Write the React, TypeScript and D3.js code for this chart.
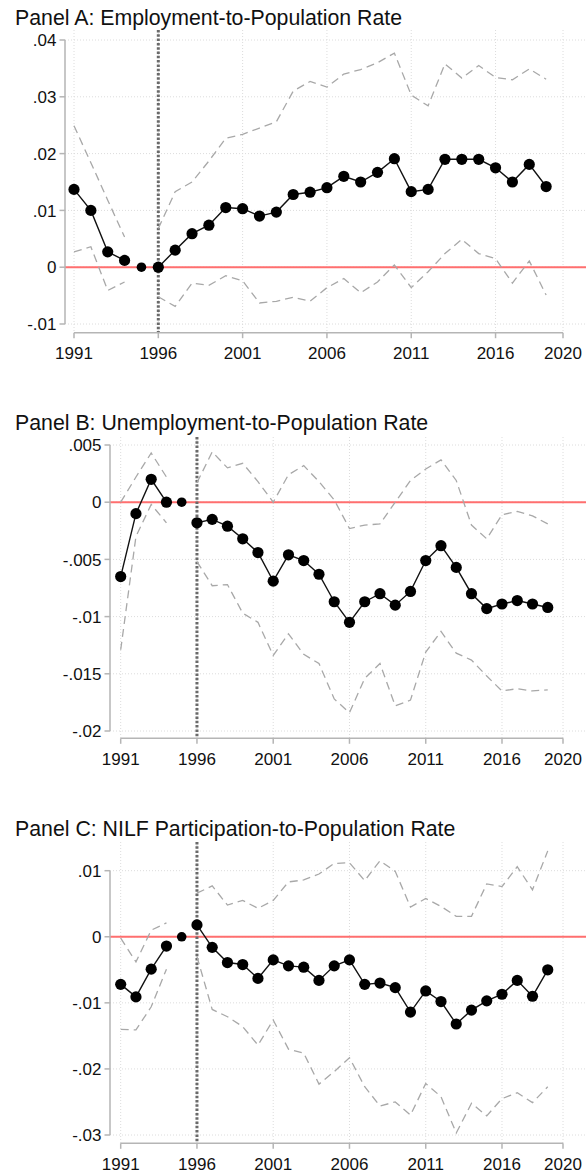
import React from "react";
import * as d3 from "d3";

const years = [1991, 1992, 1993, 1994, 1995, 1996, 1997, 1998, 1999, 2000, 2001, 2002, 2003, 2004, 2005, 2006, 2007, 2008, 2009, 2010, 2011, 2012, 2013, 2014, 2015, 2016, 2017, 2018, 2019];
const xTicks = [1991, 1996, 2001, 2006, 2011, 2016, 2020];
const eventYear = 1996;
const refYear = 1995;

const titles = [
  "Panel A: Employment-to-Population Rate",
  "Panel B: Unemployment-to-Population Rate",
  "Panel C: NILF Participation-to-Population Rate",
];

// Panel A
const empCoef = [0.0137, 0.0100, 0.0027, 0.0012, 0, 0, 0.0030, 0.0059, 0.0074, 0.0105, 0.0103, 0.0090, 0.0097, 0.0128, 0.0132, 0.0140, 0.0160, 0.0150, 0.0167, 0.0191, 0.0133, 0.0137, 0.0190, 0.0190, 0.0190, 0.0175, 0.0150, 0.0181, 0.0142];
const empUpper = [0.0249, 0.0184, 0.0118, 0.0053, null, 0.0068, 0.0133, 0.0150, 0.0187, 0.0227, 0.0234, 0.0245, 0.0256, 0.0310, 0.0327, 0.0317, 0.0340, 0.0348, 0.0360, 0.0377, 0.0303, 0.0284, 0.0358, 0.0333, 0.0355, 0.0334, 0.0330, 0.0349, 0.0331];
const empLower = [0.0027, 0.0036, -0.0041, -0.0026, null, -0.0052, -0.0069, -0.0028, -0.0032, -0.0015, -0.0024, -0.0063, -0.0060, -0.0053, -0.0060, -0.0036, -0.0020, -0.0045, -0.0026, 0.0004, -0.0036, -0.0008, 0.0024, 0.0049, 0.0024, 0.0015, -0.0028, 0.0011, -0.0049];
const empTicks = [-0.01, 0, 0.01, 0.02, 0.03, 0.04];
const empTickLabels = ["-.01", "0", ".01", ".02", ".03", ".04"];

// Panel B
const unempCoef = [-0.0065, -0.0010, 0.0020, 0, 0, -0.0018, -0.0015, -0.0021, -0.0032, -0.0044, -0.0069, -0.0046, -0.0051, -0.0063, -0.0087, -0.0105, -0.0087, -0.0080, -0.0090, -0.0078, -0.0051, -0.0038, -0.0057, -0.0080, -0.0093, -0.0089, -0.0086, -0.0089, -0.0092];
const unempUpper = [0.0000, 0.0022, 0.0043, 0.0022, null, 0.0017, 0.0044, 0.0030, 0.0034, 0.0018, 0.0000, 0.0024, 0.0032, 0.0018, 0.0002, -0.0023, -0.0020, -0.0019, 0.0000, 0.0019, 0.0029, 0.0037, 0.0019, -0.0020, -0.0032, -0.0011, -0.0008, -0.0012, -0.0019];
const unempLower = [-0.0129, -0.0030, -0.0002, -0.0018, null, -0.0052, -0.0073, -0.0072, -0.0097, -0.0105, -0.0134, -0.0115, -0.0133, -0.0141, -0.0172, -0.0184, -0.0154, -0.0141, -0.0178, -0.0173, -0.0131, -0.0113, -0.0132, -0.0138, -0.0152, -0.0165, -0.0163, -0.0165, -0.0164];
const unempTicks = [-0.02, -0.015, -0.01, -0.005, 0, 0.005];
const unempTickLabels = ["-.02", "-.015", "-.01", "-.005", "0", ".005"];

// Panel C
const nilfCoef = [-0.0072, -0.0091, -0.0049, -0.0014, 0, 0.0018, -0.0016, -0.0039, -0.0042, -0.0063, -0.0035, -0.0044, -0.0046, -0.0066, -0.0044, -0.0035, -0.0072, -0.0070, -0.0077, -0.0114, -0.0082, -0.0098, -0.0132, -0.0111, -0.0097, -0.0087, -0.0066, -0.0090, -0.0050];
const nilfUpper = [-0.0002, -0.0038, 0.0010, 0.0021, null, 0.0066, 0.0077, 0.0048, 0.0055, 0.0043, 0.0055, 0.0083, 0.0086, 0.0095, 0.0111, 0.0112, 0.0085, 0.0115, 0.0099, 0.0045, 0.0058, 0.0046, 0.0031, 0.0031, 0.0080, 0.0076, 0.0106, 0.0071, 0.0130];
const nilfLower = [-0.0140, -0.0141, -0.0106, -0.0049, null, -0.0030, -0.0110, -0.0121, -0.0136, -0.0164, -0.0126, -0.0170, -0.0176, -0.0223, -0.0204, -0.0183, -0.0227, -0.0256, -0.0250, -0.0270, -0.0222, -0.0242, -0.0297, -0.0252, -0.0271, -0.0245, -0.0236, -0.0251, -0.0227];
const nilfTicks = [-0.03, -0.02, -0.01, 0, 0.01];
const nilfTickLabels = ["-.03", "-.02", "-.01", "0", ".01"];

const FONT = "'Liberation Sans', Arial, Helvetica, sans-serif";

type PanelLayout = {
  titleY: number;
  yPix: [number, number];
  axisX: number;
  xPix: [number, number];
  plotTop: number;
  xAxisY: number;
  labelY: number;
};

const layouts: PanelLayout[] = [
  { titleY: 25, yPix: [324, 40], axisX: 65, xPix: [74, 563], plotTop: 30, xAxisY: 332.7, labelY: 358.5 },
  { titleY: 430, yPix: [731, 445], axisX: 110, xPix: [120.7, 563], plotTop: 437, xAxisY: 738.3, labelY: 764.5 },
  { titleY: 836, yPix: [1135, 870.7], axisX: 110, xPix: [120.7, 563], plotTop: 842, xAxisY: 1143.3, labelY: 1170 },
];

type PanelProps = {
  title: string;
  coef: number[];
  upper: (number | null)[];
  lower: (number | null)[];
  ticks: number[];
  tickLabels: string[];
  layout: PanelLayout;
};

function Panel({ title, coef, upper, lower, ticks, tickLabels, layout }: PanelProps) {
  const x = d3.scaleLinear().domain([1991, 2020]).range(layout.xPix);
  const y = d3.scaleLinear().domain([ticks[0], ticks[ticks.length - 1]]).range(layout.yPix);
  const right = 586;

  const pts = years.map((yr, i) => ({ yr, v: coef[i] }));
  const dataLine = d3
    .line<{ yr: number; v: number }>()
    .defined((d) => d.yr !== refYear)
    .x((d) => x(d.yr))
    .y((d) => y(d.v));

  const ciLine = d3
    .line<{ yr: number; v: number | null }>()
    .defined((d) => d.v !== null)
    .x((d) => x(d.yr))
    .y((d) => y(d.v as number));

  const upPts = years.map((yr, i) => ({ yr, v: upper[i] }));
  const loPts = years.map((yr, i) => ({ yr, v: lower[i] }));

  return (
    <g>
      <text x={15} y={layout.titleY} fontFamily={FONT} fontSize={21.3} fill="#111">
        {title}
      </text>
      {ticks.map((t) => (
        <line key={"gy" + t} x1={layout.axisX} x2={right} y1={y(t)} y2={y(t)} stroke="#dcdcdc" strokeWidth={1} strokeDasharray="1,2" />
      ))}
      {xTicks.map((t) => (
        <line key={"gx" + t} x1={x(t)} x2={x(t)} y1={layout.plotTop} y2={layout.xAxisY} stroke="#dcdcdc" strokeWidth={1} strokeDasharray="1,2" />
      ))}
      <line x1={layout.axisX} x2={right} y1={y(0)} y2={y(0)} stroke="#ff6f6f" strokeWidth={2} />
      <line x1={x(eventYear)} x2={x(eventYear)} y1={layout.plotTop} y2={layout.xAxisY} stroke="#6a6a6a" strokeWidth={3} strokeDasharray="2.5,1.8" />
      <path d={ciLine(upPts) || ""} fill="none" stroke="#a8a8a8" strokeWidth={1.3} strokeDasharray="8,5" />
      <path d={ciLine(loPts) || ""} fill="none" stroke="#a8a8a8" strokeWidth={1.3} strokeDasharray="8,5" />
      <path d={dataLine(pts) || ""} fill="none" stroke="#111" strokeWidth={1.4} />
      {pts.map((p) => (
        <circle key={"p" + p.yr} cx={x(p.yr)} cy={y(p.v)} r={p.yr === refYear ? 4.8 : 5.6} fill="#000" />
      ))}
      <line x1={layout.axisX} x2={layout.axisX} y1={y(ticks[0])} y2={y(ticks[ticks.length - 1])} stroke="#b5b5b5" strokeWidth={1.5} />
      {ticks.map((t, i) => (
        <g key={"yt" + t}>
          <line x1={layout.axisX - 5.5} x2={layout.axisX} y1={y(t)} y2={y(t)} stroke="#b5b5b5" strokeWidth={1.5} />
          <text x={layout.axisX - 8.5} y={y(t)} dy="0.36em" textAnchor="end" fontFamily={FONT} fontSize={17} fill="#111">
            {tickLabels[i]}
          </text>
        </g>
      ))}
      <line x1={x(1991)} x2={x(2020)} y1={layout.xAxisY} y2={layout.xAxisY} stroke="#b5b5b5" strokeWidth={1.5} />
      {xTicks.map((t) => (
        <g key={"xt" + t}>
          <line x1={x(t)} x2={x(t)} y1={layout.xAxisY} y2={layout.xAxisY + 5.5} stroke="#b5b5b5" strokeWidth={1.5} />
          <text x={x(t)} y={layout.labelY} textAnchor="middle" fontFamily={FONT} fontSize={17} fill="#111">
            {t}
          </text>
        </g>
      ))}
    </g>
  );
}

export default function App() {
  return (
    <svg
      width={586}
      height={1173}
      style={{ position: "absolute", left: 0, top: 0, background: "#fff", display: "block" }}
    >
      <rect x={0} y={0} width={586} height={1173} fill="#fff" />
      <Panel title={titles[0]} coef={empCoef} upper={empUpper} lower={empLower} ticks={empTicks} tickLabels={empTickLabels} layout={layouts[0]} />
      <Panel title={titles[1]} coef={unempCoef} upper={unempUpper} lower={unempLower} ticks={unempTicks} tickLabels={unempTickLabels} layout={layouts[1]} />
      <Panel title={titles[2]} coef={nilfCoef} upper={nilfUpper} lower={nilfLower} ticks={nilfTicks} tickLabels={nilfTickLabels} layout={layouts[2]} />
    </svg>
  );
}
